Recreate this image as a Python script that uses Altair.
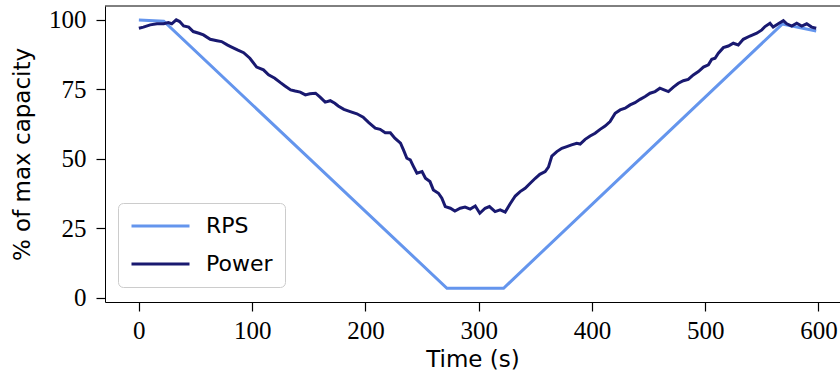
import altair as alt
import pandas as pd

# ---- data ----
rps_t = [0, 22, 272, 322, 568, 598]
rps_v = [100.0, 99.5, 3.4, 3.4, 98.5, 96.0]

power_t = [0, 4, 10, 16, 22, 26, 29, 33, 36, 39.5, 44, 48, 53, 57, 63, 69, 73, 78, 81, 87,
           92.5, 98, 104, 110, 114.5, 120, 125, 129, 134, 138, 142.5, 147, 151, 156, 160,
           164.5, 169, 173, 176, 181, 186.6, 192.5, 198, 203, 208.7, 213, 217.5, 222, 226,
           231, 233.6, 236.6, 239.6, 242.5, 245.5, 250, 253, 257, 260, 264.5, 267.5, 270.5,
           275, 279, 283.7, 288, 292.5, 297, 301, 305.7, 309.5, 314.5, 319, 323.4, 327.8,
           332.3, 336.6, 341, 345.5, 350, 354, 358.7, 361.6, 364.6, 369, 373.4, 377.8, 382,
           386.6, 389.6, 394, 398.4, 402.8, 407.2, 411.6, 416, 420.5, 424.9, 429.3, 433.7,
           438, 442.5, 447, 451.3, 455.7, 460, 463.7, 467.5, 471.9, 476.3, 480.7, 485, 489.5,
           494, 498.4, 502.8, 505.8, 508.7, 511.6, 516, 520.4, 524.8, 529.2, 533.6, 539.5,
           545.5, 550, 552.8, 557.2, 560, 564.5, 569, 572, 576.4, 580.8, 585.2, 589.6, 594, 598]
power_v = [97.0, 97.4, 98.2, 98.6, 98.6, 99.0, 98.6, 100.0, 99.4, 97.8, 97.4, 95.8, 95.2, 94.6,
           93.0, 92.5, 92.2, 91.0, 90.4, 89.2, 88.2, 86.2, 83.0, 82.0, 80.2, 79.0, 77.4, 76.2,
           74.8, 74.4, 74.0, 73.0, 73.4, 73.6, 72.2, 70.4, 70.9, 70.0, 69.0, 67.8, 67.0, 66.2,
           65.0, 63.0, 61.0, 60.6, 59.4, 59.4, 57.4, 55.6, 53.2, 50.2, 49.6, 47.2, 44.8, 45.4,
           43.0, 41.8, 38.8, 37.6, 35.8, 32.8, 32.2, 31.2, 32.2, 32.6, 31.9, 33.0, 30.4, 32.2,
           32.8, 31.0, 31.6, 30.8, 33.8, 36.6, 38.2, 39.4, 41.2, 43.0, 44.4, 45.4, 47.0, 51.0,
           52.6, 53.8, 54.4, 55.0, 55.6, 55.3, 57.0, 58.2, 59.2, 60.6, 61.8, 63.4, 66.4, 67.6,
           68.2, 69.4, 70.2, 71.4, 72.4, 73.6, 74.2, 75.4, 74.8, 74.2, 75.8, 77.2, 78.1, 78.6,
           80.2, 81.4, 83.0, 83.8, 85.8, 86.2, 88.0, 90.0, 90.6, 91.6, 91.0, 93.0, 94.2, 95.2,
           96.4, 97.6, 98.8, 97.4, 98.6, 99.7, 98.6, 97.8, 98.8, 97.8, 98.6, 97.4, 97.0]

series_names = ["RPS", "Power"]
series_colors = ["#6495ED", "#191970"]
x_ticks = [0, 100, 200, 300, 400, 500, 600]
y_ticks = [0, 25, 50, 75, 100]

rps = pd.DataFrame({"t": rps_t, "v": rps_v, "series": "RPS"})
power = pd.DataFrame({"t": power_t, "v": power_v, "series": "Power"})

W, H = 735, 296

xscale = alt.Scale(domain=[-29.9, 619], nice=False, zero=False)
yscale = alt.Scale(domain=[-1.55, 105], nice=False, zero=False)
cscale = alt.Scale(domain=series_names, range=series_colors)

xaxis = alt.Axis(values=x_ticks, title="Time (s)", grid=False, format="d",
                 labelPadding=7, titlePadding=5)
yaxis = alt.Axis(values=y_ticks, title="% of max capacity", grid=False, format="d",
                 labelPadding=10, titlePadding=14)

legend = alt.Legend(title=None, orient="none", legendX=13, legendY=197,
                    symbolType="stroke", symbolStrokeWidth=3, symbolSize=3364,
                    clipHeight=22,
                    labelFont="DejaVu Sans", labelFontSize=22, labelColor="black",
                    fillColor="white", strokeColor="#cccccc", cornerRadius=5,
                    padding=12, labelOffset=15, rowPadding=16)


def line(df):
    return alt.Chart(df).mark_line(strokeWidth=3).encode(
        x=alt.X("t:Q", scale=xscale, axis=xaxis),
        y=alt.Y("v:Q", scale=yscale, axis=yaxis),
        color=alt.Color("series:N", scale=cscale, legend=legend),
    )


top_spine = alt.Chart(pd.DataFrame({"a": [0]})).mark_rule(color="black", strokeWidth=1).encode(
    x=alt.value(0), x2=alt.value(W), y=alt.value(0)
)

chart = alt.layer(line(rps), line(power), top_spine).properties(
    width=W, height=H, autosize="none",
    padding={"left": 105, "top": 6, "right": 0, "bottom": 81},
).configure_view(stroke=None).configure_axis(
    domainColor="black", domainWidth=1, tickColor="black", tickWidth=1.2, tickSize=9,
    labelFont="Liberation Serif", labelFontSize=25, labelColor="black",
    titleFont="DejaVu Sans", titleFontSize=23, titleFontWeight="normal", titleColor="black",
)

chart.save("out.html", embed_options={"renderer": "svg", "actions": False})
